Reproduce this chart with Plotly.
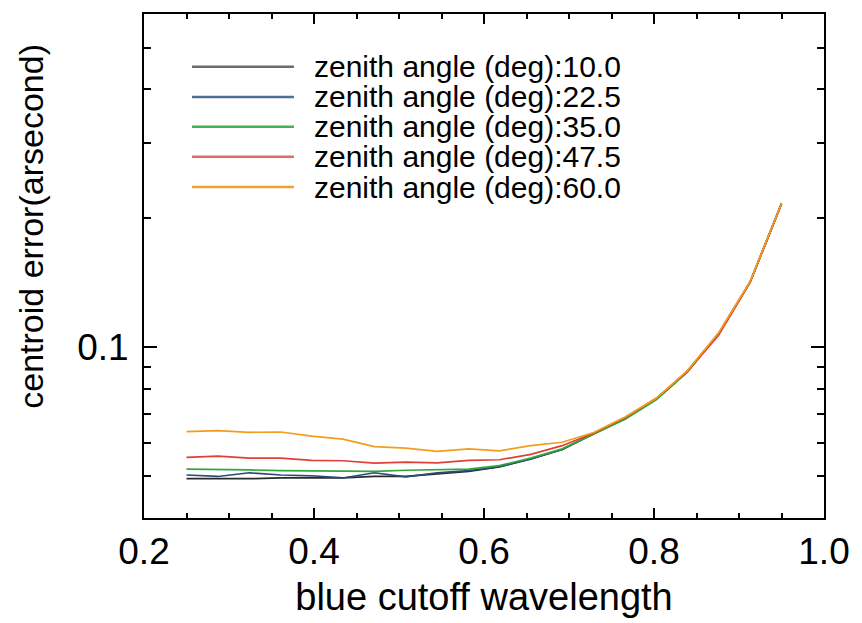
import plotly.graph_objects as go

# ---------------- data ----------------
wavelength = [0.250, 0.287, 0.324, 0.361, 0.397, 0.434, 0.471, 0.508, 0.545, 0.582,
              0.618, 0.655, 0.692, 0.729, 0.766, 0.803, 0.839, 0.876, 0.913, 0.950]

err_10_0 = [0.0494, 0.0493, 0.0494, 0.0496, 0.0497, 0.0496, 0.0500, 0.0500, 0.0506, 0.0514,
            0.0526, 0.0550, 0.0578, 0.0628, 0.0684, 0.0760, 0.0878, 0.1076, 0.1420, 0.2166]
err_22_5 = [0.0504, 0.0500, 0.0510, 0.0504, 0.0502, 0.0496, 0.0510, 0.0499, 0.0510, 0.0516,
            0.0527, 0.0549, 0.0578, 0.0629, 0.0685, 0.0760, 0.0879, 0.1077, 0.1421, 0.2166]
err_35_0 = [0.0520, 0.0520, 0.0518, 0.0516, 0.0515, 0.0514, 0.0514, 0.0517, 0.0519, 0.0520,
            0.0530, 0.0552, 0.0580, 0.0627, 0.0680, 0.0756, 0.0875, 0.1075, 0.1420, 0.2165]
err_47_5 = [0.0554, 0.0558, 0.0552, 0.0552, 0.0545, 0.0544, 0.0537, 0.0540, 0.0538, 0.0545,
            0.0547, 0.0563, 0.0590, 0.0631, 0.0686, 0.0762, 0.0878, 0.1068, 0.1418, 0.2163]
err_60_0 = [0.0636, 0.0640, 0.0634, 0.0635, 0.0621, 0.0611, 0.0587, 0.0582, 0.0572, 0.0580,
            0.0574, 0.0590, 0.0601, 0.0633, 0.0688, 0.0762, 0.0882, 0.1082, 0.1425, 0.2167]

series_names = ["zenith angle (deg):10.0", "zenith angle (deg):22.5",
                "zenith angle (deg):35.0", "zenith angle (deg):47.5",
                "zenith angle (deg):60.0"]
series_values = [err_10_0, err_22_5, err_35_0, err_47_5, err_60_0]
series_colors = ["#2a2a2a", "#2b4a78", "#2fa83a", "#e0403a", "#f29d1e"]
legend_colors = ["#6a6a6a", "#4f6d92", "#45b24f", "#e46a66", "#f2a030"]

y_minor_ticks = [0.05, 0.06, 0.07, 0.08, 0.09, 0.2, 0.3, 0.4, 0.5]
y_major_ticks = [0.1]
x_major_ticks = [0.2, 0.4, 0.6, 0.8, 1.0]
x_tick_text = ["0.2", "0.4", "0.6", "0.8", "1.0"]

FONT = "Liberation Sans, Arial, Helvetica, sans-serif"

fig = go.Figure()
for name, vals, col in zip(series_names, series_values, series_colors):
    fig.add_trace(go.Scatter(x=wavelength, y=vals, mode="lines", name=name,
                             line=dict(color=col, width=1.7), showlegend=False))

# manual legend (sample lines + text) placed in paper coordinates
leg_y = [0.8952, 0.8354, 0.7765, 0.7169, 0.6565]
for name, col, yy in zip(series_names, legend_colors, leg_y):
    fig.add_shape(type="line", xref="paper", yref="paper", x0=0.0706, x1=0.2205,
                  y0=yy, y1=yy, line=dict(color=col, width=2.5))
    fig.add_annotation(xref="paper", yref="paper", x=0.2465, y=yy, text=name,
                       showarrow=False, xanchor="left", yanchor="middle",
                       font=dict(family=FONT, size=30, color="black"))

# y-axis title
fig.add_annotation(xref="paper", yref="paper", x=-0.1666, y=0.5793,
                   text="centroid error(arsecond)", textangle=-90, showarrow=False,
                   xanchor="center", yanchor="middle",
                   font=dict(family=FONT, size=34, color="black"))

fig.update_layout(
    width=862, height=623,
    margin=dict(l=144, r=31, t=13, b=101),
    paper_bgcolor="white", plot_bgcolor="white",
    font=dict(family=FONT, color="black"),
    showlegend=False,
)
fig.update_xaxes(
    range=[0.2, 1.0], tickvals=x_major_ticks, ticktext=x_tick_text,
    ticks="inside", ticklen=10, tickwidth=1.5, tickcolor="black",
    showline=True, linecolor="black", linewidth=2, mirror="allticks",
    showgrid=False, zeroline=False,
    tickfont=dict(family=FONT, size=37, color="black"),
    ticklabelstandoff=0,
    minor=dict(dtick=0.05, ticks="inside", ticklen=5, tickwidth=1.5,
               tickcolor="black", showgrid=False),
    title=dict(text="blue cutoff wavelength", standoff=12,
               font=dict(family=FONT, size=38, color="black")),
)
fig.update_yaxes(
    type="log", range=[-1.39794, -0.22185],
    tickvals=y_major_ticks, ticktext=["0.1"],
    ticks="inside", ticklen=13, tickwidth=1.5, tickcolor="black",
    showline=True, linecolor="black", linewidth=2, mirror="allticks",
    showgrid=False, zeroline=False,
    tickfont=dict(family=FONT, size=37, color="black"),
    ticklabelstandoff=6,
    minor=dict(tickvals=y_minor_ticks, ticks="inside", ticklen=7, tickwidth=1.5,
               tickcolor="black", showgrid=False),
)

fig.write_html("out.html")
